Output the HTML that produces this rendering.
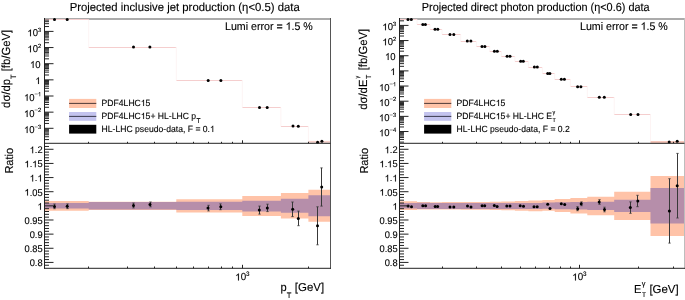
<!DOCTYPE html>
<html><head><meta charset="utf-8"><style>
html,body{margin:0;padding:0;background:#fff;width:685px;height:300px;overflow:hidden}
svg{display:block;will-change:transform}
text{fill:#000;text-rendering:geometricPrecision;stroke:#000;stroke-width:0.12px;stroke-linejoin:round}
#one{stroke:#000;stroke-width:26}
</style></head><body>
<svg width="685" height="300" viewBox="0 0 685 300" font-family="&quot;Liberation Sans&quot;, sans-serif">
<defs><path id="one" d="M763 0L583 0L583 1098C540 1059 483 1019 413 980C343 941 280 911 224 891L224 1058C325 1103 413 1158 488 1222C563 1286 616 1349 647 1409L763 1409Z"/></defs><rect width="685" height="300" fill="#fff"/>
<path d="M44.50,201.00 L88.70,201.00 L88.70,201.80 L176.30,201.80 L176.30,199.30 L242.30,199.30 L242.30,195.90 L280.90,195.90 L280.90,193.00 L308.40,193.00 L308.40,189.80 L330.50,189.80 L330.50,221.70 L308.40,221.70 L308.40,218.50 L280.90,218.50 L280.90,215.90 L242.30,215.90 L242.30,212.40 L176.30,212.40 L176.30,210.00 L88.70,210.00 L88.70,210.80 L44.50,210.80 Z" fill="#FFC3A8"/>
<path d="M44.50,202.90 L88.70,202.90 L88.70,202.10 L176.30,202.10 L176.30,201.80 L242.30,201.80 L242.30,200.70 L280.90,200.70 L280.90,198.70 L308.40,198.70 L308.40,195.30 L330.50,195.30 L330.50,216.30 L308.40,216.30 L308.40,212.80 L280.90,212.80 L280.90,211.40 L242.30,211.40 L242.30,209.90 L176.30,209.90 L176.30,209.60 L88.70,209.60 L88.70,208.60 L44.50,208.60 Z" fill="#B68EAA"/>
<rect x="44.00" y="18.00" width="287.00" height="2.00" fill="#ababab"/>
<line x1="44.50" y1="19.50" x2="88.70" y2="19.50" stroke="#F5CECE" stroke-width="1.0" />
<line x1="88.70" y1="47.50" x2="176.30" y2="47.50" stroke="#F5CECE" stroke-width="1.0" />
<line x1="88.70" y1="19.60" x2="88.70" y2="47.20" stroke="#FDF4F4" stroke-width="1.0" />
<line x1="176.30" y1="80.50" x2="242.30" y2="80.50" stroke="#F5CECE" stroke-width="1.0" />
<line x1="176.30" y1="47.20" x2="176.30" y2="80.40" stroke="#FDF4F4" stroke-width="1.0" />
<line x1="242.30" y1="107.50" x2="280.90" y2="107.50" stroke="#F5CECE" stroke-width="1.0" />
<line x1="242.30" y1="80.40" x2="242.30" y2="107.40" stroke="#FDF4F4" stroke-width="1.0" />
<line x1="280.90" y1="126.50" x2="308.40" y2="126.50" stroke="#F5CECE" stroke-width="1.0" />
<line x1="280.90" y1="107.40" x2="280.90" y2="126.20" stroke="#FDF4F4" stroke-width="1.0" />
<rect x="308.40" y="140.90" width="22.10" height="1.80" fill="#F8D2CC"/>
<line x1="308.40" y1="126.20" x2="308.40" y2="141.00" stroke="#FDF4F4" stroke-width="1.0" />
<circle cx="54.50" cy="19.60" r="1.5" fill="#000"/>
<circle cx="67.20" cy="19.60" r="1.5" fill="#000"/>
<circle cx="133.50" cy="47.10" r="1.5" fill="#000"/>
<circle cx="149.90" cy="47.10" r="1.5" fill="#000"/>
<circle cx="208.20" cy="80.50" r="1.5" fill="#000"/>
<circle cx="220.90" cy="80.50" r="1.5" fill="#000"/>
<circle cx="259.50" cy="107.40" r="1.5" fill="#000"/>
<circle cx="267.20" cy="107.40" r="1.5" fill="#000"/>
<circle cx="293.00" cy="126.10" r="1.5" fill="#000"/>
<circle cx="298.30" cy="126.30" r="1.5" fill="#000"/>
<circle cx="317.60" cy="142.30" r="1.5" fill="#000"/>
<circle cx="321.90" cy="141.20" r="1.5" fill="#000"/>
<line x1="54.50" y1="204.10" x2="54.50" y2="208.70" stroke="#383838" stroke-width="1.0" />
<line x1="53.30" y1="204.10" x2="55.70" y2="204.10" stroke="#383838" stroke-width="0.8" />
<line x1="53.30" y1="208.70" x2="55.70" y2="208.70" stroke="#383838" stroke-width="0.8" />
<circle cx="54.50" cy="206.40" r="1.5" fill="#000"/>
<line x1="67.50" y1="204.00" x2="67.50" y2="208.60" stroke="#383838" stroke-width="1.0" />
<line x1="66.30" y1="204.00" x2="68.70" y2="204.00" stroke="#383838" stroke-width="0.8" />
<line x1="66.30" y1="208.60" x2="68.70" y2="208.60" stroke="#383838" stroke-width="0.8" />
<circle cx="67.20" cy="206.30" r="1.5" fill="#000"/>
<line x1="133.50" y1="203.10" x2="133.50" y2="207.90" stroke="#383838" stroke-width="1.0" />
<line x1="132.30" y1="203.10" x2="134.70" y2="203.10" stroke="#383838" stroke-width="0.8" />
<line x1="132.30" y1="207.90" x2="134.70" y2="207.90" stroke="#383838" stroke-width="0.8" />
<circle cx="133.50" cy="205.50" r="1.5" fill="#000"/>
<line x1="150.50" y1="202.00" x2="150.50" y2="206.80" stroke="#383838" stroke-width="1.0" />
<line x1="149.30" y1="202.00" x2="151.70" y2="202.00" stroke="#383838" stroke-width="0.8" />
<line x1="149.30" y1="206.80" x2="151.70" y2="206.80" stroke="#383838" stroke-width="0.8" />
<circle cx="150.00" cy="204.40" r="1.5" fill="#000"/>
<line x1="208.50" y1="205.30" x2="208.50" y2="210.90" stroke="#383838" stroke-width="1.0" />
<line x1="207.30" y1="205.30" x2="209.70" y2="205.30" stroke="#383838" stroke-width="0.8" />
<line x1="207.30" y1="210.90" x2="209.70" y2="210.90" stroke="#383838" stroke-width="0.8" />
<circle cx="208.00" cy="208.10" r="1.5" fill="#000"/>
<line x1="220.50" y1="203.90" x2="220.50" y2="209.70" stroke="#383838" stroke-width="1.0" />
<line x1="219.30" y1="203.90" x2="221.70" y2="203.90" stroke="#383838" stroke-width="0.8" />
<line x1="219.30" y1="209.70" x2="221.70" y2="209.70" stroke="#383838" stroke-width="0.8" />
<circle cx="220.80" cy="206.80" r="1.5" fill="#000"/>
<line x1="259.50" y1="206.10" x2="259.50" y2="214.10" stroke="#383838" stroke-width="1.0" />
<line x1="258.30" y1="206.10" x2="260.70" y2="206.10" stroke="#383838" stroke-width="0.8" />
<line x1="258.30" y1="214.10" x2="260.70" y2="214.10" stroke="#383838" stroke-width="0.8" />
<circle cx="259.30" cy="210.10" r="1.5" fill="#000"/>
<line x1="267.50" y1="204.20" x2="267.50" y2="211.60" stroke="#383838" stroke-width="1.0" />
<line x1="266.30" y1="204.20" x2="268.70" y2="204.20" stroke="#383838" stroke-width="0.8" />
<line x1="266.30" y1="211.60" x2="268.70" y2="211.60" stroke="#383838" stroke-width="0.8" />
<circle cx="267.30" cy="207.90" r="1.5" fill="#000"/>
<line x1="292.50" y1="202.00" x2="292.50" y2="216.60" stroke="#383838" stroke-width="1.0" />
<line x1="291.30" y1="202.00" x2="293.70" y2="202.00" stroke="#383838" stroke-width="0.8" />
<line x1="291.30" y1="216.60" x2="293.70" y2="216.60" stroke="#383838" stroke-width="0.8" />
<circle cx="292.70" cy="209.30" r="1.5" fill="#000"/>
<line x1="298.50" y1="211.10" x2="298.50" y2="225.70" stroke="#383838" stroke-width="1.0" />
<line x1="297.30" y1="211.10" x2="299.70" y2="211.10" stroke="#383838" stroke-width="0.8" />
<line x1="297.30" y1="225.70" x2="299.70" y2="225.70" stroke="#383838" stroke-width="0.8" />
<circle cx="298.30" cy="218.40" r="1.5" fill="#000"/>
<line x1="317.50" y1="206.80" x2="317.50" y2="244.80" stroke="#383838" stroke-width="1.0" />
<line x1="316.30" y1="206.80" x2="318.70" y2="206.80" stroke="#383838" stroke-width="0.8" />
<line x1="316.30" y1="244.80" x2="318.70" y2="244.80" stroke="#383838" stroke-width="0.8" />
<circle cx="317.50" cy="225.80" r="1.5" fill="#000"/>
<line x1="321.50" y1="167.90" x2="321.50" y2="206.10" stroke="#383838" stroke-width="1.0" />
<line x1="320.30" y1="167.90" x2="322.70" y2="167.90" stroke="#383838" stroke-width="0.8" />
<line x1="320.30" y1="206.10" x2="322.70" y2="206.10" stroke="#383838" stroke-width="0.8" />
<circle cx="321.70" cy="187.00" r="1.5" fill="#000"/>
<line x1="44.50" y1="18.00" x2="44.50" y2="268.80" stroke="#222" stroke-width="1.0" />
<line x1="330.50" y1="18.00" x2="330.50" y2="268.80" stroke="#555" stroke-width="1.0" />
<line x1="44.00" y1="268.30" x2="331.00" y2="268.30" stroke="#222" stroke-width="1.0" />
<line x1="44.50" y1="143.30" x2="330.50" y2="143.30" stroke="#222" stroke-width="1.0" />
<line x1="44.50" y1="139.59" x2="49.00" y2="139.59" stroke="#222" stroke-width="1.0" />
<line x1="44.50" y1="136.74" x2="49.00" y2="136.74" stroke="#222" stroke-width="1.0" />
<line x1="44.50" y1="134.73" x2="49.00" y2="134.73" stroke="#222" stroke-width="1.0" />
<line x1="44.50" y1="133.16" x2="49.00" y2="133.16" stroke="#222" stroke-width="1.0" />
<line x1="44.50" y1="131.88" x2="49.00" y2="131.88" stroke="#222" stroke-width="1.0" />
<line x1="44.50" y1="130.80" x2="49.00" y2="130.80" stroke="#222" stroke-width="1.0" />
<line x1="44.50" y1="129.87" x2="49.00" y2="129.87" stroke="#222" stroke-width="1.0" />
<line x1="44.50" y1="129.04" x2="49.00" y2="129.04" stroke="#222" stroke-width="1.0" />
<line x1="44.50" y1="128.30" x2="53.50" y2="128.30" stroke="#222" stroke-width="1.0" />
<line x1="44.50" y1="123.44" x2="49.00" y2="123.44" stroke="#222" stroke-width="1.0" />
<line x1="44.50" y1="120.59" x2="49.00" y2="120.59" stroke="#222" stroke-width="1.0" />
<line x1="44.50" y1="118.58" x2="49.00" y2="118.58" stroke="#222" stroke-width="1.0" />
<line x1="44.50" y1="117.01" x2="49.00" y2="117.01" stroke="#222" stroke-width="1.0" />
<line x1="44.50" y1="115.73" x2="49.00" y2="115.73" stroke="#222" stroke-width="1.0" />
<line x1="44.50" y1="114.65" x2="49.00" y2="114.65" stroke="#222" stroke-width="1.0" />
<line x1="44.50" y1="113.72" x2="49.00" y2="113.72" stroke="#222" stroke-width="1.0" />
<line x1="44.50" y1="112.89" x2="49.00" y2="112.89" stroke="#222" stroke-width="1.0" />
<line x1="44.50" y1="112.15" x2="53.50" y2="112.15" stroke="#222" stroke-width="1.0" />
<line x1="44.50" y1="107.29" x2="49.00" y2="107.29" stroke="#222" stroke-width="1.0" />
<line x1="44.50" y1="104.44" x2="49.00" y2="104.44" stroke="#222" stroke-width="1.0" />
<line x1="44.50" y1="102.43" x2="49.00" y2="102.43" stroke="#222" stroke-width="1.0" />
<line x1="44.50" y1="100.86" x2="49.00" y2="100.86" stroke="#222" stroke-width="1.0" />
<line x1="44.50" y1="99.58" x2="49.00" y2="99.58" stroke="#222" stroke-width="1.0" />
<line x1="44.50" y1="98.50" x2="49.00" y2="98.50" stroke="#222" stroke-width="1.0" />
<line x1="44.50" y1="97.57" x2="49.00" y2="97.57" stroke="#222" stroke-width="1.0" />
<line x1="44.50" y1="96.74" x2="49.00" y2="96.74" stroke="#222" stroke-width="1.0" />
<line x1="44.50" y1="96.00" x2="53.50" y2="96.00" stroke="#222" stroke-width="1.0" />
<line x1="44.50" y1="91.14" x2="49.00" y2="91.14" stroke="#222" stroke-width="1.0" />
<line x1="44.50" y1="88.29" x2="49.00" y2="88.29" stroke="#222" stroke-width="1.0" />
<line x1="44.50" y1="86.28" x2="49.00" y2="86.28" stroke="#222" stroke-width="1.0" />
<line x1="44.50" y1="84.71" x2="49.00" y2="84.71" stroke="#222" stroke-width="1.0" />
<line x1="44.50" y1="83.43" x2="49.00" y2="83.43" stroke="#222" stroke-width="1.0" />
<line x1="44.50" y1="82.35" x2="49.00" y2="82.35" stroke="#222" stroke-width="1.0" />
<line x1="44.50" y1="81.42" x2="49.00" y2="81.42" stroke="#222" stroke-width="1.0" />
<line x1="44.50" y1="80.59" x2="49.00" y2="80.59" stroke="#222" stroke-width="1.0" />
<line x1="44.50" y1="79.85" x2="53.50" y2="79.85" stroke="#222" stroke-width="1.0" />
<line x1="44.50" y1="74.99" x2="49.00" y2="74.99" stroke="#222" stroke-width="1.0" />
<line x1="44.50" y1="72.14" x2="49.00" y2="72.14" stroke="#222" stroke-width="1.0" />
<line x1="44.50" y1="70.13" x2="49.00" y2="70.13" stroke="#222" stroke-width="1.0" />
<line x1="44.50" y1="68.56" x2="49.00" y2="68.56" stroke="#222" stroke-width="1.0" />
<line x1="44.50" y1="67.28" x2="49.00" y2="67.28" stroke="#222" stroke-width="1.0" />
<line x1="44.50" y1="66.20" x2="49.00" y2="66.20" stroke="#222" stroke-width="1.0" />
<line x1="44.50" y1="65.27" x2="49.00" y2="65.27" stroke="#222" stroke-width="1.0" />
<line x1="44.50" y1="64.44" x2="49.00" y2="64.44" stroke="#222" stroke-width="1.0" />
<line x1="44.50" y1="63.70" x2="53.50" y2="63.70" stroke="#222" stroke-width="1.0" />
<line x1="44.50" y1="58.84" x2="49.00" y2="58.84" stroke="#222" stroke-width="1.0" />
<line x1="44.50" y1="55.99" x2="49.00" y2="55.99" stroke="#222" stroke-width="1.0" />
<line x1="44.50" y1="53.98" x2="49.00" y2="53.98" stroke="#222" stroke-width="1.0" />
<line x1="44.50" y1="52.41" x2="49.00" y2="52.41" stroke="#222" stroke-width="1.0" />
<line x1="44.50" y1="51.13" x2="49.00" y2="51.13" stroke="#222" stroke-width="1.0" />
<line x1="44.50" y1="50.05" x2="49.00" y2="50.05" stroke="#222" stroke-width="1.0" />
<line x1="44.50" y1="49.12" x2="49.00" y2="49.12" stroke="#222" stroke-width="1.0" />
<line x1="44.50" y1="48.29" x2="49.00" y2="48.29" stroke="#222" stroke-width="1.0" />
<line x1="44.50" y1="47.55" x2="53.50" y2="47.55" stroke="#222" stroke-width="1.0" />
<line x1="44.50" y1="42.69" x2="49.00" y2="42.69" stroke="#222" stroke-width="1.0" />
<line x1="44.50" y1="39.84" x2="49.00" y2="39.84" stroke="#222" stroke-width="1.0" />
<line x1="44.50" y1="37.83" x2="49.00" y2="37.83" stroke="#222" stroke-width="1.0" />
<line x1="44.50" y1="36.26" x2="49.00" y2="36.26" stroke="#222" stroke-width="1.0" />
<line x1="44.50" y1="34.98" x2="49.00" y2="34.98" stroke="#222" stroke-width="1.0" />
<line x1="44.50" y1="33.90" x2="49.00" y2="33.90" stroke="#222" stroke-width="1.0" />
<line x1="44.50" y1="32.97" x2="49.00" y2="32.97" stroke="#222" stroke-width="1.0" />
<line x1="44.50" y1="32.14" x2="49.00" y2="32.14" stroke="#222" stroke-width="1.0" />
<line x1="44.50" y1="31.40" x2="53.50" y2="31.40" stroke="#222" stroke-width="1.0" />
<line x1="44.50" y1="26.54" x2="49.00" y2="26.54" stroke="#222" stroke-width="1.0" />
<line x1="44.50" y1="23.69" x2="49.00" y2="23.69" stroke="#222" stroke-width="1.0" />
<line x1="44.50" y1="21.68" x2="49.00" y2="21.68" stroke="#222" stroke-width="1.0" />
<line x1="44.50" y1="20.11" x2="49.00" y2="20.11" stroke="#222" stroke-width="1.0" />
<line x1="44.50" y1="265.24" x2="49.00" y2="265.24" stroke="#222" stroke-width="1.0" />
<line x1="44.50" y1="262.41" x2="53.50" y2="262.41" stroke="#222" stroke-width="1.0" />
<line x1="44.50" y1="259.58" x2="49.00" y2="259.58" stroke="#222" stroke-width="1.0" />
<line x1="44.50" y1="256.75" x2="49.00" y2="256.75" stroke="#222" stroke-width="1.0" />
<line x1="44.50" y1="253.93" x2="49.00" y2="253.93" stroke="#222" stroke-width="1.0" />
<line x1="44.50" y1="251.10" x2="49.00" y2="251.10" stroke="#222" stroke-width="1.0" />
<line x1="44.50" y1="248.27" x2="53.50" y2="248.27" stroke="#222" stroke-width="1.0" />
<line x1="44.50" y1="245.44" x2="49.00" y2="245.44" stroke="#222" stroke-width="1.0" />
<line x1="44.50" y1="242.61" x2="49.00" y2="242.61" stroke="#222" stroke-width="1.0" />
<line x1="44.50" y1="239.79" x2="49.00" y2="239.79" stroke="#222" stroke-width="1.0" />
<line x1="44.50" y1="236.96" x2="49.00" y2="236.96" stroke="#222" stroke-width="1.0" />
<line x1="44.50" y1="234.13" x2="53.50" y2="234.13" stroke="#222" stroke-width="1.0" />
<line x1="44.50" y1="231.30" x2="49.00" y2="231.30" stroke="#222" stroke-width="1.0" />
<line x1="44.50" y1="228.47" x2="49.00" y2="228.47" stroke="#222" stroke-width="1.0" />
<line x1="44.50" y1="225.65" x2="49.00" y2="225.65" stroke="#222" stroke-width="1.0" />
<line x1="44.50" y1="222.82" x2="49.00" y2="222.82" stroke="#222" stroke-width="1.0" />
<line x1="44.50" y1="219.99" x2="53.50" y2="219.99" stroke="#222" stroke-width="1.0" />
<line x1="44.50" y1="217.16" x2="49.00" y2="217.16" stroke="#222" stroke-width="1.0" />
<line x1="44.50" y1="214.33" x2="49.00" y2="214.33" stroke="#222" stroke-width="1.0" />
<line x1="44.50" y1="211.51" x2="49.00" y2="211.51" stroke="#222" stroke-width="1.0" />
<line x1="44.50" y1="208.68" x2="49.00" y2="208.68" stroke="#222" stroke-width="1.0" />
<line x1="44.50" y1="205.85" x2="53.50" y2="205.85" stroke="#222" stroke-width="1.0" />
<line x1="44.50" y1="203.02" x2="49.00" y2="203.02" stroke="#222" stroke-width="1.0" />
<line x1="44.50" y1="200.19" x2="49.00" y2="200.19" stroke="#222" stroke-width="1.0" />
<line x1="44.50" y1="197.37" x2="49.00" y2="197.37" stroke="#222" stroke-width="1.0" />
<line x1="44.50" y1="194.54" x2="49.00" y2="194.54" stroke="#222" stroke-width="1.0" />
<line x1="44.50" y1="191.71" x2="53.50" y2="191.71" stroke="#222" stroke-width="1.0" />
<line x1="44.50" y1="188.88" x2="49.00" y2="188.88" stroke="#222" stroke-width="1.0" />
<line x1="44.50" y1="186.05" x2="49.00" y2="186.05" stroke="#222" stroke-width="1.0" />
<line x1="44.50" y1="183.23" x2="49.00" y2="183.23" stroke="#222" stroke-width="1.0" />
<line x1="44.50" y1="180.40" x2="49.00" y2="180.40" stroke="#222" stroke-width="1.0" />
<line x1="44.50" y1="177.57" x2="53.50" y2="177.57" stroke="#222" stroke-width="1.0" />
<line x1="44.50" y1="174.74" x2="49.00" y2="174.74" stroke="#222" stroke-width="1.0" />
<line x1="44.50" y1="171.91" x2="49.00" y2="171.91" stroke="#222" stroke-width="1.0" />
<line x1="44.50" y1="169.09" x2="49.00" y2="169.09" stroke="#222" stroke-width="1.0" />
<line x1="44.50" y1="166.26" x2="49.00" y2="166.26" stroke="#222" stroke-width="1.0" />
<line x1="44.50" y1="163.43" x2="53.50" y2="163.43" stroke="#222" stroke-width="1.0" />
<line x1="44.50" y1="160.60" x2="49.00" y2="160.60" stroke="#222" stroke-width="1.0" />
<line x1="44.50" y1="157.77" x2="49.00" y2="157.77" stroke="#222" stroke-width="1.0" />
<line x1="44.50" y1="154.95" x2="49.00" y2="154.95" stroke="#222" stroke-width="1.0" />
<line x1="44.50" y1="152.12" x2="49.00" y2="152.12" stroke="#222" stroke-width="1.0" />
<line x1="44.50" y1="149.29" x2="53.50" y2="149.29" stroke="#222" stroke-width="1.0" />
<line x1="44.50" y1="146.46" x2="49.00" y2="146.46" stroke="#222" stroke-width="1.0" />
<line x1="88.50" y1="268.30" x2="88.50" y2="266.50" stroke="#222" stroke-width="1.0" />
<line x1="88.50" y1="143.30" x2="88.50" y2="141.80" stroke="#222" stroke-width="1.0" />
<line x1="127.50" y1="268.30" x2="127.50" y2="266.50" stroke="#222" stroke-width="1.0" />
<line x1="127.50" y1="143.30" x2="127.50" y2="141.80" stroke="#222" stroke-width="1.0" />
<line x1="154.50" y1="268.30" x2="154.50" y2="266.50" stroke="#222" stroke-width="1.0" />
<line x1="154.50" y1="143.30" x2="154.50" y2="141.80" stroke="#222" stroke-width="1.0" />
<line x1="176.50" y1="268.30" x2="176.50" y2="266.50" stroke="#222" stroke-width="1.0" />
<line x1="176.50" y1="143.30" x2="176.50" y2="141.80" stroke="#222" stroke-width="1.0" />
<line x1="193.50" y1="268.30" x2="193.50" y2="266.50" stroke="#222" stroke-width="1.0" />
<line x1="193.50" y1="143.30" x2="193.50" y2="141.80" stroke="#222" stroke-width="1.0" />
<line x1="208.50" y1="268.30" x2="208.50" y2="266.50" stroke="#222" stroke-width="1.0" />
<line x1="208.50" y1="143.30" x2="208.50" y2="141.80" stroke="#222" stroke-width="1.0" />
<line x1="221.50" y1="268.30" x2="221.50" y2="266.50" stroke="#222" stroke-width="1.0" />
<line x1="221.50" y1="143.30" x2="221.50" y2="141.80" stroke="#222" stroke-width="1.0" />
<line x1="232.50" y1="268.30" x2="232.50" y2="266.50" stroke="#222" stroke-width="1.0" />
<line x1="232.50" y1="143.30" x2="232.50" y2="141.80" stroke="#222" stroke-width="1.0" />
<line x1="242.50" y1="268.30" x2="242.50" y2="264.80" stroke="#222" stroke-width="1.0" />
<line x1="242.50" y1="143.30" x2="242.50" y2="140.30" stroke="#222" stroke-width="1.0" />
<line x1="308.50" y1="268.30" x2="308.50" y2="266.50" stroke="#222" stroke-width="1.0" />
<line x1="308.50" y1="143.30" x2="308.50" y2="141.80" stroke="#222" stroke-width="1.0" />
<text x="69.70" y="10.80" font-size="11.2" text-anchor="start" textLength="230.0" lengthAdjust="spacingAndGlyphs" transform="matrix(1,0,0,1.04,0,-0.432)">Projected inclusive jet production (η&lt;0.5) data</text>
<text x="225.00" y="29.80" font-size="10.65" text-anchor="start"  transform="matrix(1,0,0,1.04,0,-1.192)">Lumi error =  .5 %</text><use href="#one" transform="matrix(1,0,0,1.04,0,-1.192) translate(285.609,29.800) scale(0.005200,-0.005200)"/>
<text x="41.20" y="133.10" font-size="9.5" text-anchor="end" transform="matrix(1,0,0,1.04,0,-5.324)"> 0<tspan font-size="5.8" dy="-4.4">−3</tspan></text><use href="#one" transform="matrix(1,0,0,1.04,0,-5.324) translate(24.013,133.100) scale(0.004639,-0.004639)"/>
<text x="41.20" y="116.95" font-size="9.5" text-anchor="end" transform="matrix(1,0,0,1.04,0,-4.678)"> 0<tspan font-size="5.8" dy="-4.4">−2</tspan></text><use href="#one" transform="matrix(1,0,0,1.04,0,-4.678) translate(24.013,116.950) scale(0.004639,-0.004639)"/>
<text x="41.20" y="100.80" font-size="9.5" text-anchor="end" transform="matrix(1,0,0,1.04,0,-4.032)"> 0<tspan font-size="5.8" dy="-4.4">− </tspan></text><use href="#one" transform="matrix(1,0,0,1.04,0,-4.032) translate(24.013,100.800) scale(0.004639,-0.004639)"/><use href="#one" transform="matrix(1,0,0,1.04,0,-4.032) translate(37.966,96.400) scale(0.002832,-0.002832)"/>
<text x="40.60" y="84.05" font-size="9.5" text-anchor="end"  transform="matrix(1,0,0,1.04,0,-3.362)"> </text><use href="#one" transform="matrix(1,0,0,1.04,0,-3.362) translate(35.303,84.050) scale(0.004639,-0.004639)"/>
<text x="40.60" y="67.90" font-size="9.5" text-anchor="end"  transform="matrix(1,0,0,1.04,0,-2.716)"> 0</text><use href="#one" transform="matrix(1,0,0,1.04,0,-2.716) translate(30.022,67.900) scale(0.004639,-0.004639)"/>
<text x="41.20" y="52.35" font-size="9.5" text-anchor="end" transform="matrix(1,0,0,1.04,0,-2.094)"> 0<tspan font-size="5.8" dy="-4.4">2</tspan></text><use href="#one" transform="matrix(1,0,0,1.04,0,-2.094) translate(27.388,52.350) scale(0.004639,-0.004639)"/>
<text x="41.20" y="36.20" font-size="9.5" text-anchor="end" transform="matrix(1,0,0,1.04,0,-1.448)"> 0<tspan font-size="5.8" dy="-4.4">3</tspan></text><use href="#one" transform="matrix(1,0,0,1.04,0,-1.448) translate(27.388,36.200) scale(0.004639,-0.004639)"/>
<text x="42.60" y="153.19" font-size="9.3" text-anchor="end"  transform="matrix(1,0,0,1.04,0,-6.128)"> .2</text><use href="#one" transform="matrix(1,0,0,1.04,0,-6.128) translate(29.662,153.190) scale(0.004541,-0.004541)"/>
<text x="42.60" y="167.33" font-size="9.3" text-anchor="end"  transform="matrix(1,0,0,1.04,0,-6.693)"> . 5</text><use href="#one" transform="matrix(1,0,0,1.04,0,-6.693) translate(24.491,167.330) scale(0.004541,-0.004541)"/><use href="#one" transform="matrix(1,0,0,1.04,0,-6.693) translate(32.241,167.330) scale(0.004541,-0.004541)"/>
<text x="42.60" y="181.47" font-size="9.3" text-anchor="end"  transform="matrix(1,0,0,1.04,0,-7.259)"> . </text><use href="#one" transform="matrix(1,0,0,1.04,0,-7.259) translate(29.662,181.470) scale(0.004541,-0.004541)"/><use href="#one" transform="matrix(1,0,0,1.04,0,-7.259) translate(37.412,181.470) scale(0.004541,-0.004541)"/>
<text x="42.60" y="195.61" font-size="9.3" text-anchor="end"  transform="matrix(1,0,0,1.04,0,-7.824)"> .05</text><use href="#one" transform="matrix(1,0,0,1.04,0,-7.824) translate(24.491,195.610) scale(0.004541,-0.004541)"/>
<text x="42.60" y="209.75" font-size="9.3" text-anchor="end"  transform="matrix(1,0,0,1.04,0,-8.390)"> </text><use href="#one" transform="matrix(1,0,0,1.04,0,-8.390) translate(37.428,209.750) scale(0.004541,-0.004541)"/>
<text x="42.60" y="223.89" font-size="9.3" text-anchor="end"  transform="matrix(1,0,0,1.04,0,-8.956)">0.95</text>
<text x="42.60" y="238.03" font-size="9.3" text-anchor="end"  transform="matrix(1,0,0,1.04,0,-9.521)">0.9</text>
<text x="42.60" y="252.17" font-size="9.3" text-anchor="end"  transform="matrix(1,0,0,1.04,0,-10.087)">0.85</text>
<text x="42.60" y="266.31" font-size="9.3" text-anchor="end"  transform="matrix(1,0,0,1.04,0,-10.652)">0.8</text>
<text x="235.20" y="280.4" font-size="9.8" transform="matrix(1,0,0,1.04,0,-11.216)"> 0<tspan font-size="6.3" dy="-4.6">3</tspan></text><use href="#one" transform="matrix(1,0,0,1.04,0,-11.216) translate(235.200,280.400) scale(0.004785,-0.004785)"/>
<rect x="69.10" y="98.90" width="27.20" height="9.10" fill="#FFC3A8"/>
<line x1="69.10" y1="103.40" x2="96.30" y2="103.40" stroke="#3a2a2a" stroke-width="0.9" />
<rect x="69.10" y="112.00" width="27.20" height="8.80" fill="#C3C3EE"/>
<line x1="69.10" y1="116.40" x2="96.30" y2="116.40" stroke="#2a2a3a" stroke-width="0.9" />
<rect x="69.10" y="124.80" width="27.20" height="8.80" fill="#000"/>
<text x="101.60" y="105.90" font-size="8.62" text-anchor="start"  transform="matrix(1,0,0,1.04,0,-4.236)">PDF4LHC 5</text><use href="#one" transform="matrix(1,0,0,1.04,0,-4.236) translate(140.819,105.900) scale(0.004209,-0.004209)"/>
<text x="101.6" y="119.0" font-size="8.62" transform="matrix(1,0,0,1.04,0,-4.760)">PDF4LHC 5+ HL-LHC p<tspan font-size="6.5" dx="0.3" dy="4.0">T</tspan></text><use href="#one" transform="matrix(1,0,0,1.04,0,-4.760) translate(140.819,119.000) scale(0.004209,-0.004209)"/>
<text x="101.60" y="131.90" font-size="8.62" text-anchor="start"  transform="matrix(1,0,0,1.04,0,-5.276)">HL-LHC pseudo-data, F = 0. </text><use href="#one" transform="matrix(1,0,0,1.04,0,-5.276) translate(209.991,131.900) scale(0.004209,-0.004209)"/>
<text transform="translate(12.9,173.6) rotate(-90) scale(1,1.04)" font-size="11">Ratio</text>
<path d="M399.50,201.30 L417.00,201.30 L417.00,202.00 L430.00,202.00 L430.00,202.20 L442.00,202.20 L442.00,202.10 L460.70,202.10 L460.70,202.00 L476.40,202.00 L476.40,201.90 L489.70,201.90 L489.70,201.80 L501.30,201.80 L501.30,201.60 L514.90,201.60 L514.90,201.00 L528.40,201.00 L528.40,200.60 L542.40,200.60 L542.40,199.90 L554.70,199.90 L554.70,199.00 L570.40,199.00 L570.40,198.00 L587.30,198.00 L587.30,196.70 L614.20,196.70 L614.20,191.70 L650.50,191.70 L650.50,175.90 L684.50,175.90 L684.50,236.00 L650.50,236.00 L650.50,220.00 L614.20,220.00 L614.20,215.30 L587.30,215.30 L587.30,213.40 L570.40,213.40 L570.40,212.10 L554.70,212.10 L554.70,210.80 L542.40,210.80 L542.40,211.30 L528.40,211.30 L528.40,210.70 L514.90,210.70 L514.90,210.20 L501.30,210.20 L501.30,209.90 L489.70,209.90 L489.70,209.80 L476.40,209.80 L476.40,209.70 L460.70,209.70 L460.70,209.60 L442.00,209.60 L442.00,209.50 L430.00,209.50 L430.00,209.40 L417.00,209.40 L417.00,209.90 L399.50,209.90 Z" fill="#FFC3A8"/>
<path d="M399.50,202.90 L417.00,202.90 L417.00,202.70 L430.00,202.70 L430.00,202.90 L442.00,202.90 L442.00,202.90 L460.70,202.90 L460.70,202.90 L476.40,202.90 L476.40,202.90 L489.70,202.90 L489.70,202.90 L501.30,202.90 L501.30,202.90 L514.90,202.90 L514.90,202.90 L528.40,202.90 L528.40,202.90 L542.40,202.90 L542.40,202.60 L554.70,202.60 L554.70,202.25 L570.40,202.25 L570.40,202.00 L587.30,202.00 L587.30,201.70 L614.20,201.70 L614.20,199.80 L650.50,199.80 L650.50,188.00 L684.50,188.00 L684.50,223.60 L650.50,223.60 L650.50,211.90 L614.20,211.90 L614.20,210.00 L587.30,210.00 L587.30,209.50 L570.40,209.50 L570.40,209.20 L554.70,209.20 L554.70,208.80 L542.40,208.80 L542.40,208.90 L528.40,208.90 L528.40,209.00 L514.90,209.00 L514.90,209.00 L501.30,209.00 L501.30,209.00 L489.70,209.00 L489.70,209.00 L476.40,209.00 L476.40,209.00 L460.70,209.00 L460.70,209.00 L442.00,209.00 L442.00,209.00 L430.00,209.00 L430.00,209.00 L417.00,209.00 L417.00,208.50 L399.50,208.50 Z" fill="#B68EAA"/>
<rect x="399.00" y="18.00" width="286.00" height="2.00" fill="#ababab"/>
<line x1="399.50" y1="19.50" x2="417.00" y2="19.50" stroke="#F5CECE" stroke-width="1.0" />
<line x1="417.00" y1="24.50" x2="430.00" y2="24.50" stroke="#F5CECE" stroke-width="1.0" />
<line x1="417.00" y1="19.50" x2="417.00" y2="24.40" stroke="#FDF4F4" stroke-width="1.0" />
<line x1="430.00" y1="29.50" x2="442.00" y2="29.50" stroke="#F5CECE" stroke-width="1.0" />
<line x1="430.00" y1="24.40" x2="430.00" y2="29.30" stroke="#FDF4F4" stroke-width="1.0" />
<line x1="442.00" y1="34.50" x2="460.70" y2="34.50" stroke="#F5CECE" stroke-width="1.0" />
<line x1="442.00" y1="29.30" x2="442.00" y2="34.50" stroke="#FDF4F4" stroke-width="1.0" />
<line x1="460.70" y1="41.50" x2="476.40" y2="41.50" stroke="#F5CECE" stroke-width="1.0" />
<line x1="460.70" y1="34.50" x2="460.70" y2="41.10" stroke="#FDF4F4" stroke-width="1.0" />
<line x1="476.40" y1="46.50" x2="489.70" y2="46.50" stroke="#F5CECE" stroke-width="1.0" />
<line x1="476.40" y1="41.10" x2="476.40" y2="46.40" stroke="#FDF4F4" stroke-width="1.0" />
<line x1="489.70" y1="51.50" x2="501.30" y2="51.50" stroke="#F5CECE" stroke-width="1.0" />
<line x1="489.70" y1="46.40" x2="489.70" y2="51.30" stroke="#FDF4F4" stroke-width="1.0" />
<line x1="501.30" y1="56.50" x2="514.90" y2="56.50" stroke="#F5CECE" stroke-width="1.0" />
<line x1="501.30" y1="51.30" x2="501.30" y2="56.30" stroke="#FDF4F4" stroke-width="1.0" />
<line x1="514.90" y1="61.50" x2="528.40" y2="61.50" stroke="#F5CECE" stroke-width="1.0" />
<line x1="514.90" y1="56.30" x2="514.90" y2="61.30" stroke="#FDF4F4" stroke-width="1.0" />
<line x1="528.40" y1="67.50" x2="542.40" y2="67.50" stroke="#F5CECE" stroke-width="1.0" />
<line x1="528.40" y1="61.30" x2="528.40" y2="67.10" stroke="#FDF4F4" stroke-width="1.0" />
<line x1="542.40" y1="73.50" x2="554.70" y2="73.50" stroke="#F5CECE" stroke-width="1.0" />
<line x1="542.40" y1="67.10" x2="542.40" y2="73.50" stroke="#FDF4F4" stroke-width="1.0" />
<line x1="554.70" y1="79.50" x2="570.40" y2="79.50" stroke="#F5CECE" stroke-width="1.0" />
<line x1="554.70" y1="73.50" x2="554.70" y2="79.30" stroke="#FDF4F4" stroke-width="1.0" />
<line x1="570.40" y1="86.50" x2="587.30" y2="86.50" stroke="#F5CECE" stroke-width="1.0" />
<line x1="570.40" y1="79.30" x2="570.40" y2="86.70" stroke="#FDF4F4" stroke-width="1.0" />
<line x1="587.30" y1="97.50" x2="614.20" y2="97.50" stroke="#F5CECE" stroke-width="1.0" />
<line x1="587.30" y1="86.70" x2="587.30" y2="97.30" stroke="#FDF4F4" stroke-width="1.0" />
<line x1="614.20" y1="114.50" x2="650.50" y2="114.50" stroke="#F5CECE" stroke-width="1.0" />
<line x1="614.20" y1="97.30" x2="614.20" y2="114.40" stroke="#FDF4F4" stroke-width="1.0" />
<rect x="650.50" y="141.00" width="34.00" height="2.30" fill="#F8C8BC"/>
<line x1="650.50" y1="114.40" x2="650.50" y2="141.00" stroke="#FDF4F4" stroke-width="1.0" />
<circle cx="408.00" cy="19.50" r="1.5" fill="#000"/>
<circle cx="411.30" cy="19.50" r="1.5" fill="#000"/>
<circle cx="422.80" cy="24.40" r="1.5" fill="#000"/>
<circle cx="425.40" cy="24.40" r="1.5" fill="#000"/>
<circle cx="435.00" cy="29.30" r="1.5" fill="#000"/>
<circle cx="437.80" cy="29.30" r="1.5" fill="#000"/>
<circle cx="450.00" cy="34.60" r="1.5" fill="#000"/>
<circle cx="453.80" cy="34.60" r="1.5" fill="#000"/>
<circle cx="467.30" cy="41.10" r="1.5" fill="#000"/>
<circle cx="470.90" cy="41.10" r="1.5" fill="#000"/>
<circle cx="482.00" cy="46.40" r="1.5" fill="#000"/>
<circle cx="484.90" cy="46.40" r="1.5" fill="#000"/>
<circle cx="494.40" cy="51.30" r="1.5" fill="#000"/>
<circle cx="497.30" cy="51.30" r="1.5" fill="#000"/>
<circle cx="507.10" cy="56.30" r="1.5" fill="#000"/>
<circle cx="510.00" cy="56.30" r="1.5" fill="#000"/>
<circle cx="520.70" cy="61.30" r="1.5" fill="#000"/>
<circle cx="523.30" cy="61.30" r="1.5" fill="#000"/>
<circle cx="534.40" cy="67.10" r="1.5" fill="#000"/>
<circle cx="537.30" cy="67.10" r="1.5" fill="#000"/>
<circle cx="547.70" cy="73.50" r="1.5" fill="#000"/>
<circle cx="549.90" cy="73.50" r="1.5" fill="#000"/>
<circle cx="561.30" cy="79.30" r="1.5" fill="#000"/>
<circle cx="564.40" cy="79.30" r="1.5" fill="#000"/>
<circle cx="577.60" cy="86.70" r="1.5" fill="#000"/>
<circle cx="580.90" cy="86.70" r="1.5" fill="#000"/>
<circle cx="599.30" cy="97.30" r="1.5" fill="#000"/>
<circle cx="604.30" cy="97.30" r="1.5" fill="#000"/>
<circle cx="630.70" cy="114.40" r="1.5" fill="#000"/>
<circle cx="638.00" cy="114.40" r="1.5" fill="#000"/>
<circle cx="669.20" cy="142.00" r="1.5" fill="#000"/>
<circle cx="677.20" cy="141.30" r="1.5" fill="#000"/>
<circle cx="408.10" cy="205.90" r="1.5" fill="#000"/>
<circle cx="411.50" cy="206.80" r="1.5" fill="#000"/>
<circle cx="422.80" cy="205.70" r="1.5" fill="#000"/>
<circle cx="425.60" cy="205.70" r="1.5" fill="#000"/>
<circle cx="435.20" cy="206.60" r="1.5" fill="#000"/>
<circle cx="437.60" cy="206.60" r="1.5" fill="#000"/>
<circle cx="450.00" cy="207.00" r="1.5" fill="#000"/>
<circle cx="453.80" cy="207.00" r="1.5" fill="#000"/>
<circle cx="467.50" cy="206.00" r="1.5" fill="#000"/>
<circle cx="471.00" cy="207.00" r="1.5" fill="#000"/>
<circle cx="482.10" cy="205.70" r="1.5" fill="#000"/>
<circle cx="484.70" cy="205.70" r="1.5" fill="#000"/>
<circle cx="494.30" cy="205.40" r="1.5" fill="#000"/>
<circle cx="497.10" cy="206.60" r="1.5" fill="#000"/>
<circle cx="506.80" cy="206.00" r="1.5" fill="#000"/>
<circle cx="510.00" cy="206.00" r="1.5" fill="#000"/>
<circle cx="520.20" cy="205.80" r="1.5" fill="#000"/>
<circle cx="523.50" cy="206.30" r="1.5" fill="#000"/>
<circle cx="534.00" cy="206.80" r="1.5" fill="#000"/>
<circle cx="537.20" cy="206.80" r="1.5" fill="#000"/>
<circle cx="547.70" cy="204.30" r="1.5" fill="#000"/>
<circle cx="550.00" cy="208.60" r="1.5" fill="#000"/>
<circle cx="561.30" cy="203.70" r="1.5" fill="#000"/>
<circle cx="564.70" cy="204.60" r="1.5" fill="#000"/>
<line x1="577.50" y1="206.70" x2="577.50" y2="210.70" stroke="#383838" stroke-width="1.0" />
<line x1="576.30" y1="206.70" x2="578.70" y2="206.70" stroke="#383838" stroke-width="0.8" />
<line x1="576.30" y1="210.70" x2="578.70" y2="210.70" stroke="#383838" stroke-width="0.8" />
<circle cx="577.70" cy="208.70" r="1.5" fill="#000"/>
<line x1="581.50" y1="201.90" x2="581.50" y2="205.70" stroke="#383838" stroke-width="1.0" />
<line x1="580.30" y1="201.90" x2="582.70" y2="201.90" stroke="#383838" stroke-width="0.8" />
<line x1="580.30" y1="205.70" x2="582.70" y2="205.70" stroke="#383838" stroke-width="0.8" />
<circle cx="581.20" cy="203.80" r="1.5" fill="#000"/>
<line x1="599.50" y1="199.70" x2="599.50" y2="204.30" stroke="#383838" stroke-width="1.0" />
<line x1="598.30" y1="199.70" x2="600.70" y2="199.70" stroke="#383838" stroke-width="0.8" />
<line x1="598.30" y1="204.30" x2="600.70" y2="204.30" stroke="#383838" stroke-width="0.8" />
<circle cx="599.20" cy="202.00" r="1.5" fill="#000"/>
<line x1="604.50" y1="207.20" x2="604.50" y2="211.80" stroke="#383838" stroke-width="1.0" />
<line x1="603.30" y1="207.20" x2="605.70" y2="207.20" stroke="#383838" stroke-width="0.8" />
<line x1="603.30" y1="211.80" x2="605.70" y2="211.80" stroke="#383838" stroke-width="0.8" />
<circle cx="604.50" cy="209.50" r="1.5" fill="#000"/>
<line x1="630.50" y1="201.90" x2="630.50" y2="213.30" stroke="#383838" stroke-width="1.0" />
<line x1="629.30" y1="201.90" x2="631.70" y2="201.90" stroke="#383838" stroke-width="0.8" />
<line x1="629.30" y1="213.30" x2="631.70" y2="213.30" stroke="#383838" stroke-width="0.8" />
<circle cx="630.30" cy="207.60" r="1.5" fill="#000"/>
<line x1="637.50" y1="195.30" x2="637.50" y2="206.70" stroke="#383838" stroke-width="1.0" />
<line x1="636.30" y1="195.30" x2="638.70" y2="195.30" stroke="#383838" stroke-width="0.8" />
<line x1="636.30" y1="206.70" x2="638.70" y2="206.70" stroke="#383838" stroke-width="0.8" />
<circle cx="637.80" cy="201.00" r="1.5" fill="#000"/>
<line x1="669.50" y1="178.70" x2="669.50" y2="243.10" stroke="#383838" stroke-width="1.0" />
<line x1="668.30" y1="178.70" x2="670.70" y2="178.70" stroke="#383838" stroke-width="0.8" />
<line x1="668.30" y1="243.10" x2="670.70" y2="243.10" stroke="#383838" stroke-width="0.8" />
<circle cx="669.40" cy="210.90" r="1.5" fill="#000"/>
<line x1="677.50" y1="153.40" x2="677.50" y2="218.00" stroke="#383838" stroke-width="1.0" />
<line x1="676.30" y1="153.40" x2="678.70" y2="153.40" stroke="#383838" stroke-width="0.8" />
<line x1="676.30" y1="218.00" x2="678.70" y2="218.00" stroke="#383838" stroke-width="0.8" />
<circle cx="677.20" cy="185.70" r="1.5" fill="#000"/>
<line x1="399.50" y1="18.00" x2="399.50" y2="268.80" stroke="#222" stroke-width="1.0" />
<line x1="684.50" y1="18.00" x2="684.50" y2="268.80" stroke="#bdbdbd" stroke-width="1.0" />
<line x1="399.00" y1="268.30" x2="685.00" y2="268.30" stroke="#222" stroke-width="1.0" />
<line x1="399.50" y1="143.30" x2="684.50" y2="143.30" stroke="#222" stroke-width="1.0" />
<line x1="399.50" y1="142.12" x2="404.00" y2="142.12" stroke="#222" stroke-width="1.0" />
<line x1="399.50" y1="139.45" x2="404.00" y2="139.45" stroke="#222" stroke-width="1.0" />
<line x1="399.50" y1="137.55" x2="404.00" y2="137.55" stroke="#222" stroke-width="1.0" />
<line x1="399.50" y1="136.08" x2="404.00" y2="136.08" stroke="#222" stroke-width="1.0" />
<line x1="399.50" y1="134.88" x2="404.00" y2="134.88" stroke="#222" stroke-width="1.0" />
<line x1="399.50" y1="133.87" x2="404.00" y2="133.87" stroke="#222" stroke-width="1.0" />
<line x1="399.50" y1="132.99" x2="404.00" y2="132.99" stroke="#222" stroke-width="1.0" />
<line x1="399.50" y1="132.21" x2="404.00" y2="132.21" stroke="#222" stroke-width="1.0" />
<line x1="399.50" y1="131.52" x2="408.50" y2="131.52" stroke="#222" stroke-width="1.0" />
<line x1="399.50" y1="126.96" x2="404.00" y2="126.96" stroke="#222" stroke-width="1.0" />
<line x1="399.50" y1="124.29" x2="404.00" y2="124.29" stroke="#222" stroke-width="1.0" />
<line x1="399.50" y1="122.39" x2="404.00" y2="122.39" stroke="#222" stroke-width="1.0" />
<line x1="399.50" y1="120.92" x2="404.00" y2="120.92" stroke="#222" stroke-width="1.0" />
<line x1="399.50" y1="119.72" x2="404.00" y2="119.72" stroke="#222" stroke-width="1.0" />
<line x1="399.50" y1="118.71" x2="404.00" y2="118.71" stroke="#222" stroke-width="1.0" />
<line x1="399.50" y1="117.83" x2="404.00" y2="117.83" stroke="#222" stroke-width="1.0" />
<line x1="399.50" y1="117.05" x2="404.00" y2="117.05" stroke="#222" stroke-width="1.0" />
<line x1="399.50" y1="116.36" x2="408.50" y2="116.36" stroke="#222" stroke-width="1.0" />
<line x1="399.50" y1="111.80" x2="404.00" y2="111.80" stroke="#222" stroke-width="1.0" />
<line x1="399.50" y1="109.13" x2="404.00" y2="109.13" stroke="#222" stroke-width="1.0" />
<line x1="399.50" y1="107.23" x2="404.00" y2="107.23" stroke="#222" stroke-width="1.0" />
<line x1="399.50" y1="105.76" x2="404.00" y2="105.76" stroke="#222" stroke-width="1.0" />
<line x1="399.50" y1="104.56" x2="404.00" y2="104.56" stroke="#222" stroke-width="1.0" />
<line x1="399.50" y1="103.55" x2="404.00" y2="103.55" stroke="#222" stroke-width="1.0" />
<line x1="399.50" y1="102.67" x2="404.00" y2="102.67" stroke="#222" stroke-width="1.0" />
<line x1="399.50" y1="101.89" x2="404.00" y2="101.89" stroke="#222" stroke-width="1.0" />
<line x1="399.50" y1="101.20" x2="408.50" y2="101.20" stroke="#222" stroke-width="1.0" />
<line x1="399.50" y1="96.64" x2="404.00" y2="96.64" stroke="#222" stroke-width="1.0" />
<line x1="399.50" y1="93.97" x2="404.00" y2="93.97" stroke="#222" stroke-width="1.0" />
<line x1="399.50" y1="92.07" x2="404.00" y2="92.07" stroke="#222" stroke-width="1.0" />
<line x1="399.50" y1="90.60" x2="404.00" y2="90.60" stroke="#222" stroke-width="1.0" />
<line x1="399.50" y1="89.40" x2="404.00" y2="89.40" stroke="#222" stroke-width="1.0" />
<line x1="399.50" y1="88.39" x2="404.00" y2="88.39" stroke="#222" stroke-width="1.0" />
<line x1="399.50" y1="87.51" x2="404.00" y2="87.51" stroke="#222" stroke-width="1.0" />
<line x1="399.50" y1="86.73" x2="404.00" y2="86.73" stroke="#222" stroke-width="1.0" />
<line x1="399.50" y1="86.04" x2="408.50" y2="86.04" stroke="#222" stroke-width="1.0" />
<line x1="399.50" y1="81.48" x2="404.00" y2="81.48" stroke="#222" stroke-width="1.0" />
<line x1="399.50" y1="78.81" x2="404.00" y2="78.81" stroke="#222" stroke-width="1.0" />
<line x1="399.50" y1="76.91" x2="404.00" y2="76.91" stroke="#222" stroke-width="1.0" />
<line x1="399.50" y1="75.44" x2="404.00" y2="75.44" stroke="#222" stroke-width="1.0" />
<line x1="399.50" y1="74.24" x2="404.00" y2="74.24" stroke="#222" stroke-width="1.0" />
<line x1="399.50" y1="73.23" x2="404.00" y2="73.23" stroke="#222" stroke-width="1.0" />
<line x1="399.50" y1="72.35" x2="404.00" y2="72.35" stroke="#222" stroke-width="1.0" />
<line x1="399.50" y1="71.57" x2="404.00" y2="71.57" stroke="#222" stroke-width="1.0" />
<line x1="399.50" y1="70.88" x2="408.50" y2="70.88" stroke="#222" stroke-width="1.0" />
<line x1="399.50" y1="66.32" x2="404.00" y2="66.32" stroke="#222" stroke-width="1.0" />
<line x1="399.50" y1="63.65" x2="404.00" y2="63.65" stroke="#222" stroke-width="1.0" />
<line x1="399.50" y1="61.75" x2="404.00" y2="61.75" stroke="#222" stroke-width="1.0" />
<line x1="399.50" y1="60.28" x2="404.00" y2="60.28" stroke="#222" stroke-width="1.0" />
<line x1="399.50" y1="59.08" x2="404.00" y2="59.08" stroke="#222" stroke-width="1.0" />
<line x1="399.50" y1="58.07" x2="404.00" y2="58.07" stroke="#222" stroke-width="1.0" />
<line x1="399.50" y1="57.19" x2="404.00" y2="57.19" stroke="#222" stroke-width="1.0" />
<line x1="399.50" y1="56.41" x2="404.00" y2="56.41" stroke="#222" stroke-width="1.0" />
<line x1="399.50" y1="55.72" x2="408.50" y2="55.72" stroke="#222" stroke-width="1.0" />
<line x1="399.50" y1="51.16" x2="404.00" y2="51.16" stroke="#222" stroke-width="1.0" />
<line x1="399.50" y1="48.49" x2="404.00" y2="48.49" stroke="#222" stroke-width="1.0" />
<line x1="399.50" y1="46.59" x2="404.00" y2="46.59" stroke="#222" stroke-width="1.0" />
<line x1="399.50" y1="45.12" x2="404.00" y2="45.12" stroke="#222" stroke-width="1.0" />
<line x1="399.50" y1="43.92" x2="404.00" y2="43.92" stroke="#222" stroke-width="1.0" />
<line x1="399.50" y1="42.91" x2="404.00" y2="42.91" stroke="#222" stroke-width="1.0" />
<line x1="399.50" y1="42.03" x2="404.00" y2="42.03" stroke="#222" stroke-width="1.0" />
<line x1="399.50" y1="41.25" x2="404.00" y2="41.25" stroke="#222" stroke-width="1.0" />
<line x1="399.50" y1="40.56" x2="408.50" y2="40.56" stroke="#222" stroke-width="1.0" />
<line x1="399.50" y1="36.00" x2="404.00" y2="36.00" stroke="#222" stroke-width="1.0" />
<line x1="399.50" y1="33.33" x2="404.00" y2="33.33" stroke="#222" stroke-width="1.0" />
<line x1="399.50" y1="31.43" x2="404.00" y2="31.43" stroke="#222" stroke-width="1.0" />
<line x1="399.50" y1="29.96" x2="404.00" y2="29.96" stroke="#222" stroke-width="1.0" />
<line x1="399.50" y1="28.76" x2="404.00" y2="28.76" stroke="#222" stroke-width="1.0" />
<line x1="399.50" y1="27.75" x2="404.00" y2="27.75" stroke="#222" stroke-width="1.0" />
<line x1="399.50" y1="26.87" x2="404.00" y2="26.87" stroke="#222" stroke-width="1.0" />
<line x1="399.50" y1="26.09" x2="404.00" y2="26.09" stroke="#222" stroke-width="1.0" />
<line x1="399.50" y1="25.40" x2="408.50" y2="25.40" stroke="#222" stroke-width="1.0" />
<line x1="399.50" y1="20.84" x2="404.00" y2="20.84" stroke="#222" stroke-width="1.0" />
<line x1="399.50" y1="265.24" x2="404.00" y2="265.24" stroke="#222" stroke-width="1.0" />
<line x1="399.50" y1="262.41" x2="408.50" y2="262.41" stroke="#222" stroke-width="1.0" />
<line x1="399.50" y1="259.58" x2="404.00" y2="259.58" stroke="#222" stroke-width="1.0" />
<line x1="399.50" y1="256.75" x2="404.00" y2="256.75" stroke="#222" stroke-width="1.0" />
<line x1="399.50" y1="253.93" x2="404.00" y2="253.93" stroke="#222" stroke-width="1.0" />
<line x1="399.50" y1="251.10" x2="404.00" y2="251.10" stroke="#222" stroke-width="1.0" />
<line x1="399.50" y1="248.27" x2="408.50" y2="248.27" stroke="#222" stroke-width="1.0" />
<line x1="399.50" y1="245.44" x2="404.00" y2="245.44" stroke="#222" stroke-width="1.0" />
<line x1="399.50" y1="242.61" x2="404.00" y2="242.61" stroke="#222" stroke-width="1.0" />
<line x1="399.50" y1="239.79" x2="404.00" y2="239.79" stroke="#222" stroke-width="1.0" />
<line x1="399.50" y1="236.96" x2="404.00" y2="236.96" stroke="#222" stroke-width="1.0" />
<line x1="399.50" y1="234.13" x2="408.50" y2="234.13" stroke="#222" stroke-width="1.0" />
<line x1="399.50" y1="231.30" x2="404.00" y2="231.30" stroke="#222" stroke-width="1.0" />
<line x1="399.50" y1="228.47" x2="404.00" y2="228.47" stroke="#222" stroke-width="1.0" />
<line x1="399.50" y1="225.65" x2="404.00" y2="225.65" stroke="#222" stroke-width="1.0" />
<line x1="399.50" y1="222.82" x2="404.00" y2="222.82" stroke="#222" stroke-width="1.0" />
<line x1="399.50" y1="219.99" x2="408.50" y2="219.99" stroke="#222" stroke-width="1.0" />
<line x1="399.50" y1="217.16" x2="404.00" y2="217.16" stroke="#222" stroke-width="1.0" />
<line x1="399.50" y1="214.33" x2="404.00" y2="214.33" stroke="#222" stroke-width="1.0" />
<line x1="399.50" y1="211.51" x2="404.00" y2="211.51" stroke="#222" stroke-width="1.0" />
<line x1="399.50" y1="208.68" x2="404.00" y2="208.68" stroke="#222" stroke-width="1.0" />
<line x1="399.50" y1="205.85" x2="408.50" y2="205.85" stroke="#222" stroke-width="1.0" />
<line x1="399.50" y1="203.02" x2="404.00" y2="203.02" stroke="#222" stroke-width="1.0" />
<line x1="399.50" y1="200.19" x2="404.00" y2="200.19" stroke="#222" stroke-width="1.0" />
<line x1="399.50" y1="197.37" x2="404.00" y2="197.37" stroke="#222" stroke-width="1.0" />
<line x1="399.50" y1="194.54" x2="404.00" y2="194.54" stroke="#222" stroke-width="1.0" />
<line x1="399.50" y1="191.71" x2="408.50" y2="191.71" stroke="#222" stroke-width="1.0" />
<line x1="399.50" y1="188.88" x2="404.00" y2="188.88" stroke="#222" stroke-width="1.0" />
<line x1="399.50" y1="186.05" x2="404.00" y2="186.05" stroke="#222" stroke-width="1.0" />
<line x1="399.50" y1="183.23" x2="404.00" y2="183.23" stroke="#222" stroke-width="1.0" />
<line x1="399.50" y1="180.40" x2="404.00" y2="180.40" stroke="#222" stroke-width="1.0" />
<line x1="399.50" y1="177.57" x2="408.50" y2="177.57" stroke="#222" stroke-width="1.0" />
<line x1="399.50" y1="174.74" x2="404.00" y2="174.74" stroke="#222" stroke-width="1.0" />
<line x1="399.50" y1="171.91" x2="404.00" y2="171.91" stroke="#222" stroke-width="1.0" />
<line x1="399.50" y1="169.09" x2="404.00" y2="169.09" stroke="#222" stroke-width="1.0" />
<line x1="399.50" y1="166.26" x2="404.00" y2="166.26" stroke="#222" stroke-width="1.0" />
<line x1="399.50" y1="163.43" x2="408.50" y2="163.43" stroke="#222" stroke-width="1.0" />
<line x1="399.50" y1="160.60" x2="404.00" y2="160.60" stroke="#222" stroke-width="1.0" />
<line x1="399.50" y1="157.77" x2="404.00" y2="157.77" stroke="#222" stroke-width="1.0" />
<line x1="399.50" y1="154.95" x2="404.00" y2="154.95" stroke="#222" stroke-width="1.0" />
<line x1="399.50" y1="152.12" x2="404.00" y2="152.12" stroke="#222" stroke-width="1.0" />
<line x1="399.50" y1="149.29" x2="408.50" y2="149.29" stroke="#222" stroke-width="1.0" />
<line x1="399.50" y1="146.46" x2="404.00" y2="146.46" stroke="#222" stroke-width="1.0" />
<line x1="442.50" y1="268.30" x2="442.50" y2="266.50" stroke="#222" stroke-width="1.0" />
<line x1="442.50" y1="143.30" x2="442.50" y2="141.80" stroke="#222" stroke-width="1.0" />
<line x1="476.50" y1="268.30" x2="476.50" y2="266.50" stroke="#222" stroke-width="1.0" />
<line x1="476.50" y1="143.30" x2="476.50" y2="141.80" stroke="#222" stroke-width="1.0" />
<line x1="501.50" y1="268.30" x2="501.50" y2="266.50" stroke="#222" stroke-width="1.0" />
<line x1="501.50" y1="143.30" x2="501.50" y2="141.80" stroke="#222" stroke-width="1.0" />
<line x1="520.50" y1="268.30" x2="520.50" y2="266.50" stroke="#222" stroke-width="1.0" />
<line x1="520.50" y1="143.30" x2="520.50" y2="141.80" stroke="#222" stroke-width="1.0" />
<line x1="535.50" y1="268.30" x2="535.50" y2="266.50" stroke="#222" stroke-width="1.0" />
<line x1="535.50" y1="143.30" x2="535.50" y2="141.80" stroke="#222" stroke-width="1.0" />
<line x1="549.50" y1="268.30" x2="549.50" y2="266.50" stroke="#222" stroke-width="1.0" />
<line x1="549.50" y1="143.30" x2="549.50" y2="141.80" stroke="#222" stroke-width="1.0" />
<line x1="560.50" y1="268.30" x2="560.50" y2="266.50" stroke="#222" stroke-width="1.0" />
<line x1="560.50" y1="143.30" x2="560.50" y2="141.80" stroke="#222" stroke-width="1.0" />
<line x1="570.50" y1="268.30" x2="570.50" y2="266.50" stroke="#222" stroke-width="1.0" />
<line x1="570.50" y1="143.30" x2="570.50" y2="141.80" stroke="#222" stroke-width="1.0" />
<line x1="579.50" y1="268.30" x2="579.50" y2="264.80" stroke="#222" stroke-width="1.0" />
<line x1="579.50" y1="143.30" x2="579.50" y2="140.30" stroke="#222" stroke-width="1.0" />
<line x1="638.50" y1="268.30" x2="638.50" y2="266.50" stroke="#222" stroke-width="1.0" />
<line x1="638.50" y1="143.30" x2="638.50" y2="141.80" stroke="#222" stroke-width="1.0" />
<line x1="673.50" y1="268.30" x2="673.50" y2="266.50" stroke="#222" stroke-width="1.0" />
<line x1="673.50" y1="143.30" x2="673.50" y2="141.80" stroke="#222" stroke-width="1.0" />
<text x="421.80" y="10.80" font-size="11.2" text-anchor="start" textLength="227.8" lengthAdjust="spacingAndGlyphs" transform="matrix(1,0,0,1.04,0,-0.432)">Projected direct photon production (η&lt;0.6) data</text>
<text x="580.00" y="29.80" font-size="10.65" text-anchor="start"  transform="matrix(1,0,0,1.04,0,-1.192)">Lumi error =  .5 %</text><use href="#one" transform="matrix(1,0,0,1.04,0,-1.192) translate(640.609,29.800) scale(0.005200,-0.005200)"/>
<text x="396.20" y="136.32" font-size="9.5" text-anchor="end" transform="matrix(1,0,0,1.04,0,-5.453)"> 0<tspan font-size="5.8" dy="-4.4">−4</tspan></text><use href="#one" transform="matrix(1,0,0,1.04,0,-5.453) translate(379.013,136.320) scale(0.004639,-0.004639)"/>
<text x="396.20" y="121.16" font-size="9.5" text-anchor="end" transform="matrix(1,0,0,1.04,0,-4.846)"> 0<tspan font-size="5.8" dy="-4.4">−3</tspan></text><use href="#one" transform="matrix(1,0,0,1.04,0,-4.846) translate(379.013,121.160) scale(0.004639,-0.004639)"/>
<text x="396.20" y="106.00" font-size="9.5" text-anchor="end" transform="matrix(1,0,0,1.04,0,-4.240)"> 0<tspan font-size="5.8" dy="-4.4">−2</tspan></text><use href="#one" transform="matrix(1,0,0,1.04,0,-4.240) translate(379.013,106.000) scale(0.004639,-0.004639)"/>
<text x="396.20" y="90.84" font-size="9.5" text-anchor="end" transform="matrix(1,0,0,1.04,0,-3.634)"> 0<tspan font-size="5.8" dy="-4.4">− </tspan></text><use href="#one" transform="matrix(1,0,0,1.04,0,-3.634) translate(379.013,90.840) scale(0.004639,-0.004639)"/><use href="#one" transform="matrix(1,0,0,1.04,0,-3.634) translate(392.966,86.440) scale(0.002832,-0.002832)"/>
<text x="395.60" y="75.08" font-size="9.5" text-anchor="end"  transform="matrix(1,0,0,1.04,0,-3.003)"> </text><use href="#one" transform="matrix(1,0,0,1.04,0,-3.003) translate(390.303,75.080) scale(0.004639,-0.004639)"/>
<text x="395.60" y="59.92" font-size="9.5" text-anchor="end"  transform="matrix(1,0,0,1.04,0,-2.397)"> 0</text><use href="#one" transform="matrix(1,0,0,1.04,0,-2.397) translate(385.022,59.920) scale(0.004639,-0.004639)"/>
<text x="396.20" y="45.36" font-size="9.5" text-anchor="end" transform="matrix(1,0,0,1.04,0,-1.814)"> 0<tspan font-size="5.8" dy="-4.4">2</tspan></text><use href="#one" transform="matrix(1,0,0,1.04,0,-1.814) translate(382.388,45.360) scale(0.004639,-0.004639)"/>
<text x="396.20" y="30.20" font-size="9.5" text-anchor="end" transform="matrix(1,0,0,1.04,0,-1.208)"> 0<tspan font-size="5.8" dy="-4.4">3</tspan></text><use href="#one" transform="matrix(1,0,0,1.04,0,-1.208) translate(382.388,30.200) scale(0.004639,-0.004639)"/>
<text x="397.60" y="153.19" font-size="9.3" text-anchor="end"  transform="matrix(1,0,0,1.04,0,-6.128)"> .2</text><use href="#one" transform="matrix(1,0,0,1.04,0,-6.128) translate(384.663,153.190) scale(0.004541,-0.004541)"/>
<text x="397.60" y="167.33" font-size="9.3" text-anchor="end"  transform="matrix(1,0,0,1.04,0,-6.693)"> . 5</text><use href="#one" transform="matrix(1,0,0,1.04,0,-6.693) translate(379.491,167.330) scale(0.004541,-0.004541)"/><use href="#one" transform="matrix(1,0,0,1.04,0,-6.693) translate(387.241,167.330) scale(0.004541,-0.004541)"/>
<text x="397.60" y="181.47" font-size="9.3" text-anchor="end"  transform="matrix(1,0,0,1.04,0,-7.259)"> . </text><use href="#one" transform="matrix(1,0,0,1.04,0,-7.259) translate(384.663,181.470) scale(0.004541,-0.004541)"/><use href="#one" transform="matrix(1,0,0,1.04,0,-7.259) translate(392.413,181.470) scale(0.004541,-0.004541)"/>
<text x="397.60" y="195.61" font-size="9.3" text-anchor="end"  transform="matrix(1,0,0,1.04,0,-7.824)"> .05</text><use href="#one" transform="matrix(1,0,0,1.04,0,-7.824) translate(379.491,195.610) scale(0.004541,-0.004541)"/>
<text x="397.60" y="209.75" font-size="9.3" text-anchor="end"  transform="matrix(1,0,0,1.04,0,-8.390)"> </text><use href="#one" transform="matrix(1,0,0,1.04,0,-8.390) translate(392.428,209.750) scale(0.004541,-0.004541)"/>
<text x="397.60" y="223.89" font-size="9.3" text-anchor="end"  transform="matrix(1,0,0,1.04,0,-8.956)">0.95</text>
<text x="397.60" y="238.03" font-size="9.3" text-anchor="end"  transform="matrix(1,0,0,1.04,0,-9.521)">0.9</text>
<text x="397.60" y="252.17" font-size="9.3" text-anchor="end"  transform="matrix(1,0,0,1.04,0,-10.087)">0.85</text>
<text x="397.60" y="266.31" font-size="9.3" text-anchor="end"  transform="matrix(1,0,0,1.04,0,-10.652)">0.8</text>
<text x="572.20" y="280.4" font-size="9.8" transform="matrix(1,0,0,1.04,0,-11.216)"> 0<tspan font-size="6.3" dy="-4.6">3</tspan></text><use href="#one" transform="matrix(1,0,0,1.04,0,-11.216) translate(572.200,280.400) scale(0.004785,-0.004785)"/>
<rect x="424.10" y="98.90" width="27.20" height="9.10" fill="#FFC3A8"/>
<line x1="424.10" y1="103.40" x2="451.30" y2="103.40" stroke="#3a2a2a" stroke-width="0.9" />
<rect x="424.10" y="112.00" width="27.20" height="8.80" fill="#C3C3EE"/>
<line x1="424.10" y1="116.40" x2="451.30" y2="116.40" stroke="#2a2a3a" stroke-width="0.9" />
<rect x="424.10" y="124.80" width="27.20" height="8.80" fill="#000"/>
<text x="456.60" y="105.90" font-size="8.62" text-anchor="start"  transform="matrix(1,0,0,1.04,0,-4.236)">PDF4LHC 5</text><use href="#one" transform="matrix(1,0,0,1.04,0,-4.236) translate(495.819,105.900) scale(0.004209,-0.004209)"/>
<text x="456.6" y="119.2" font-size="8.62" transform="matrix(1,0,0,1.04,0,-4.768)">PDF4LHC 5+ HL-LHC E<tspan font-size="5.4" dx="0.5" dy="2.6">T</tspan><tspan font-size="5.4" dx="-3.3" dy="-7.8">γ</tspan></text><use href="#one" transform="matrix(1,0,0,1.04,0,-4.768) translate(495.819,119.200) scale(0.004209,-0.004209)"/>
<text x="456.60" y="131.90" font-size="8.62" text-anchor="start"  transform="matrix(1,0,0,1.04,0,-5.276)">HL-LHC pseudo-data, F = 0.2</text>
<text transform="translate(367.9,173.6) rotate(-90) scale(1,1.04)" font-size="11">Ratio</text>
<text transform="translate(10.0,107.9) rotate(-90) scale(1,1.04)" font-size="11.3">dσ/dp<tspan font-size="7.4" dy="6.1">T</tspan><tspan dy="-6.1"> [fb/GeV]</tspan></text>
<text transform="translate(366.6,109.8) rotate(-90) scale(1,1.04)" font-size="11.3">dσ/dE<tspan font-size="7.0" dx="0.5" dy="3.9">T</tspan><tspan font-size="5.6" dx="-3.6" dy="-11.2">γ</tspan><tspan dx="2.2" dy="7.3"> [fb/GeV]</tspan></text>
<text x="280.40" y="290.60" font-size="11.1" text-anchor="start"  transform="matrix(1,0,0,1.04,0,-11.624)">p</text>
<text x="286.80" y="297.80" font-size="7.6" text-anchor="start"  transform="matrix(1,0,0,1.04,0,-11.912)">T</text>
<text x="294.80" y="290.60" font-size="11.1" text-anchor="start" textLength="29.3" lengthAdjust="spacingAndGlyphs" transform="matrix(1,0,0,1.04,0,-11.624)">[GeV]</text>
<text x="634.10" y="293.30" font-size="11.1" text-anchor="start"  transform="matrix(1,0,0,1.04,0,-11.732)">E</text>
<text x="641.90" y="296.80" font-size="6.6" text-anchor="start"  transform="matrix(1,0,0,1.04,0,-11.872)">T</text>
<text x="641.80" y="286.30" font-size="7.4" text-anchor="start"  transform="matrix(1,0,0,1.04,0,-11.452)">γ</text>
<text x="649.40" y="293.30" font-size="11.1" text-anchor="start" textLength="29.3" lengthAdjust="spacingAndGlyphs" transform="matrix(1,0,0,1.04,0,-11.732)">[GeV]</text>
</svg>
</body></html>
